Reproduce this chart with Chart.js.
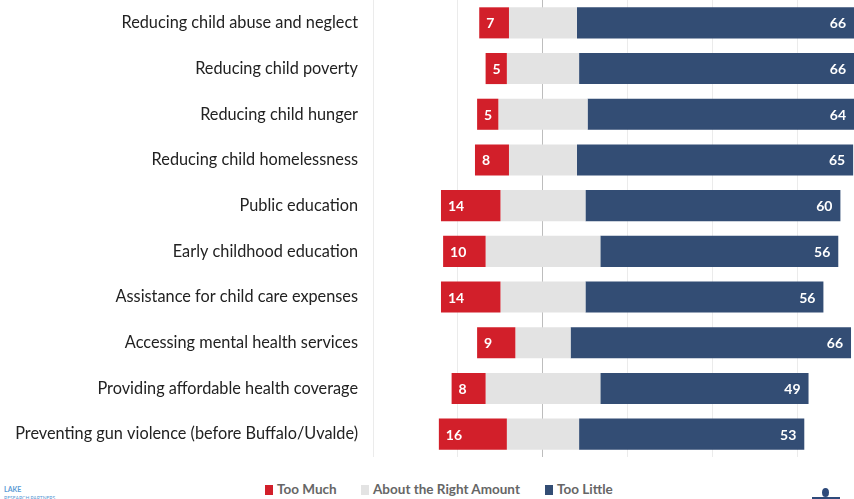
<!DOCTYPE html>
<html>
<head>
<meta charset="utf-8">
<script src="https://cdn.jsdelivr.net/npm/chart.js@4.4.1/dist/chart.umd.min.js"></script>
<style>
  html, body { margin: 0; padding: 0; background: #fff; }
  #wrap { position: relative; width: 854px; height: 499px; overflow: hidden; font-family: Lato, sans-serif; }
  #chartBox { position: absolute; left: 0; top: 0; width: 854px; height: 457px; }
  .lg { position: absolute; top: 481px; font-size: 13.5px; font-weight: bold; color: #666; white-space: nowrap; }
  .sw { position: absolute; top: 485px; width: 8px; height: 10px; }
  .logo { position: absolute; left: 4px; top: 485px; font-size: 7px; color: #5b9bd5; font-weight: bold; }
</style>
</head>
<body>
<div id="wrap">
  <div id="chartBox"><canvas id="surveyChart"></canvas></div>
  <div class="sw" style="left:265px;background:#d21f2a"></div>
  <div class="lg" style="left:277px">Too Much</div>
  <div class="sw" style="left:361px;background:#e3e3e3"></div>
  <div class="lg" style="left:373px">About the Right Amount</div>
  <div class="sw" style="left:545px;background:#334d74"></div>
  <div class="lg" style="left:557px">Too Little</div>
  <div class="logo">LAKE<br><span style="font-weight:normal;font-size:5px">RESEARCH PARTNERS</span></div>
  <div style="position:absolute;left:822px;top:488px;width:7px;height:9px;border-radius:50%;background:#2e4a7a"></div>
  <div style="position:absolute;left:812px;top:497px;width:28px;height:2px;background:#2e4a7a"></div>
</div>
<script>
// ---- DATA ----
const categories = [
  'Reducing child abuse and neglect',
  'Reducing child poverty',
  'Reducing child hunger',
  'Reducing child homelessness',
  'Public education',
  'Early childhood education',
  'Assistance for child care expenses',
  'Accessing mental health services',
  'Providing affordable health coverage',
  'Preventing gun violence (before Buffalo/Uvalde)'
];
const tooMuch = [7, 5, 5, 8, 14, 10, 14, 9, 8, 16];
const aboutRight = [16, 17, 21, 16, 20, 27, 20, 13, 27, 17];
const tooLittle = [66, 66, 64, 65, 60, 56, 56, 66, 49, 53];
const gridTicks = [-40, -20, 0, 20, 40, 60];

const RED = '#d21f2a';
const GRAY = '#e3e3e3';
const NAVY = '#334d74';

// diverging layout: "about right" straddles the zero line
const redBars = tooMuch.map((v, i) => [-(aboutRight[i] / 2 + v), -aboutRight[i] / 2]);
const grayBars = aboutRight.map(v => [-v / 2, v / 2]);
const navyBars = tooLittle.map((v, i) => [aboutRight[i] / 2, aboutRight[i] / 2 + v]);

// white value labels inside the red and navy bars
const barLabels = {
  id: 'barLabels',
  afterDatasetsDraw(chart) {
    const { ctx } = chart;
    ctx.save();
    ctx.fillStyle = '#fff';
    ctx.font = 'bold 14px Lato, sans-serif';
    ctx.textBaseline = 'middle';
    chart.getDatasetMeta(0).data.forEach((bar, i) => {
      ctx.textAlign = 'left';
      ctx.fillText(tooMuch[i], Math.min(bar.x, bar.base) + 7, bar.y + 1);
    });
    chart.getDatasetMeta(2).data.forEach((bar, i) => {
      ctx.textAlign = 'right';
      ctx.fillText(tooLittle[i], Math.min(Math.max(bar.x, bar.base), chart.chartArea.right) - 8, bar.y + 1);
    });
    ctx.restore();
  }
};

new Chart(document.getElementById('surveyChart'), {
  type: 'bar',
  data: {
    labels: categories,
    datasets: [
      { label: 'Too Much', data: redBars, backgroundColor: RED },
      { label: 'About the Right Amount', data: grayBars, backgroundColor: GRAY },
      { label: 'Too Little', data: navyBars, backgroundColor: NAVY }
    ]
  },
  plugins: [barLabels],
  options: {
    indexAxis: 'y',
    responsive: true,
    maintainAspectRatio: false,
    animation: false,
    layout: { padding: 0 },
    datasets: {
      bar: {
        grouped: false,
        categoryPercentage: 1,
        barPercentage: 0.68,
        borderWidth: 0
      }
    },
    plugins: {
      legend: { display: false },
      tooltip: { enabled: false }
    },
    scales: {
      x: {
        min: -40,
        max: 73.2,
        afterBuildTicks: scale => { scale.ticks = gridTicks.map(v => ({ value: v })); },
        ticks: { display: false },
        border: { display: false },
        grid: {
          drawTicks: false,
          color: ctx => (ctx.tick && ctx.tick.value === 0) ? '#bdbdbd' : '#ebebeb',
          lineWidth: 1
        }
      },
      y: {
        afterFit: scale => {
          scale.width = 373;
          scale.paddingTop = 0;
          scale.paddingBottom = 0;
        },
        border: { display: false },
        grid: { display: false, drawTicks: false },
        ticks: {
          padding: 15,
          color: '#222',
          font: { family: 'Lato, sans-serif', size: 16.3 }
        }
      }
    }
  }
});
</script>
</body>
</html>
